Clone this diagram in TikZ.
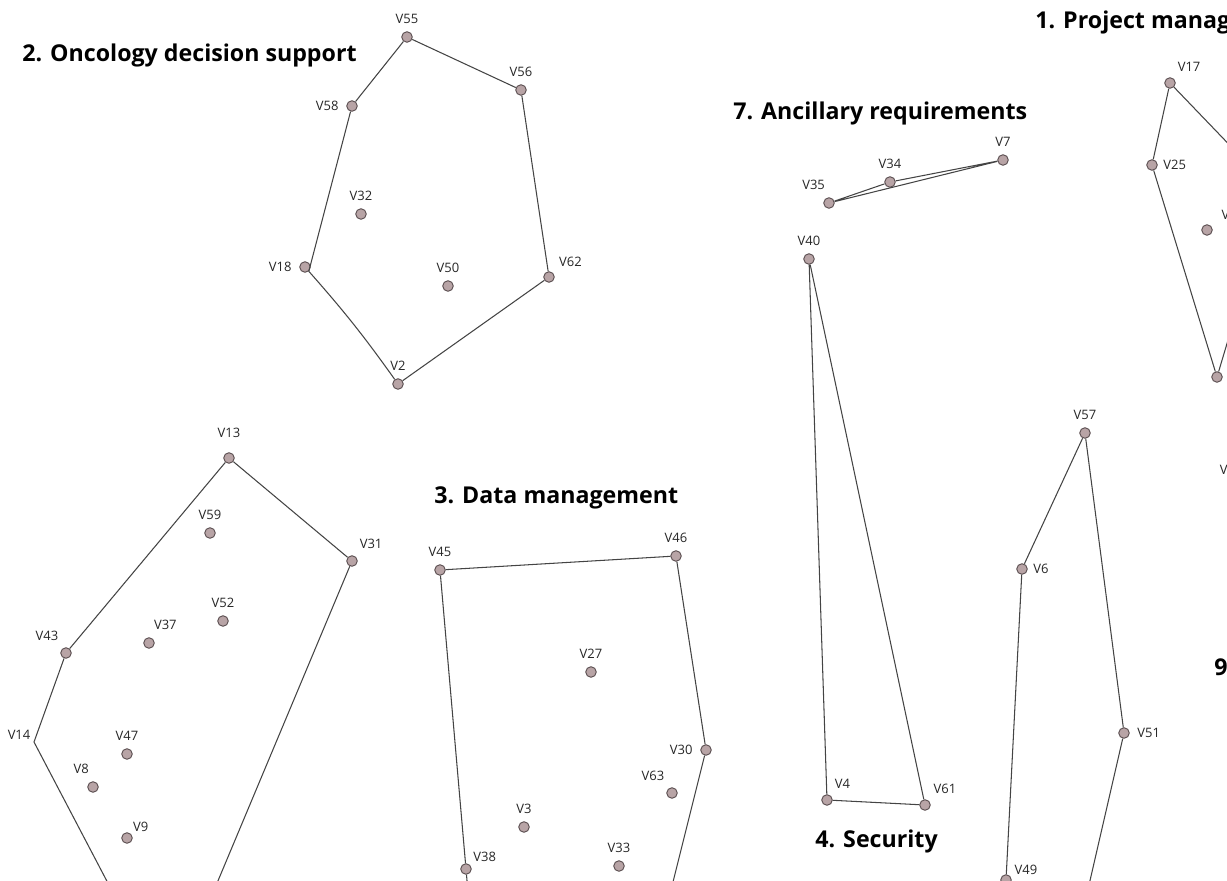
\documentclass[tikz,border=0pt]{standalone}
\usepackage{fontspec}
\setmainfont{Open Sans}
\usepackage{xcolor}
\usetikzlibrary{positioning}
\definecolor{vfill}{RGB}{184,164,166}
\definecolor{vline}{RGB}{96,84,86}
\definecolor{hullcol}{RGB}{68,68,68}
\tikzset{
  vx/.style={circle,fill=vfill,draw=vline,line width=0.55pt,minimum size=6pt,inner sep=0pt},
  hull/.style={draw=hullcol,line width=0.6pt},
  grp/.style={anchor=base west,inner sep=0pt,font=\bfseries\fontsize{13.2}{15}\selectfont},
  every label/.style={font=\fontsize{7.4}{8.5}\selectfont,text=black!85,inner sep=1pt},
  label distance=3.2pt
}

\begin{document}
\begin{tikzpicture}[x=0.02cm,y=-0.02cm]
 \useasboundingbox (0,0) rectangle (1227,881);
 \clip (0,0) rectangle (1227,881);

 \node[grp] (t1) at (1035,29) {1. Project management};
 \node[grp] (t2) at (22,62) {2. Oncology decision support};
 \node[grp] (t3) at (434,503) {3. Data management};
 \node[grp] (t4) at (815,847) {4. Security};
 \node[grp] (t7) at (733,120) {7. Ancillary requirements};
 \node[grp] (t9) at (1214,675) {9.};

 % 2
 \node[vx,label=above:V55] (v55) at (407,37) {};
 \node[vx,label=above:V56] (v56) at (521,90) {};
 \node[vx,label=left:V58] (v58) at (352,106) {};
 \node[vx,label=above:V32] (v32) at (361,214) {};
 \node[vx,label=left:V18] (v18) at (305,267) {};
 \node[vx,label=above:V50] (v50) at (448,286) {};
 \node[vx,label=45:V62] (v62) at (549,277) {};
 \node[vx,label=above:V2] (v2) at (398,384) {};
 \draw[hull] (v55) -- (v56) -- (v62) -- (v2) to[bend right=3] (v18) -- (v58) -- (v55);

 % 5
 \node[vx,label={[label distance=7pt]above:V13}] (v13) at (229,458) {};
 \node[vx,label=above:V59] (v59) at (210,533) {};
 \node[vx,label=60:V31] (v31) at (352,561) {};
 \node[vx,label=above:V52] (v52) at (223,621) {};
 \node[vx,label=75:V37] (v37) at (149,643) {};
 \node[vx,label=120:V43] (v43) at (66,653) {};
 \coordinate[label={[label distance=1pt]150:V14}] (v14) at (34,742);
 \node[vx,label=above:V47] (v47) at (127,754) {};
 \node[vx,label=100:V8] (v8) at (93,787) {};
 \node[vx,label={[label distance=0pt]45:V9}] (v9) at (127,838) {};
 \coordinate (c5l) at (143,950);
 \coordinate (c5r) at (189,950);
 \draw[hull] (v13) -- (v31) -- (c5r) -- (c5l) -- (v14) -- (v43) -- (v13);

 % 3
 \node[vx,label=above:V45] (v45) at (440,570) {};
 \node[vx,label=above:V46] (v46) at (676,556) {};
 \node[vx,label=above:V27] (v27) at (591,672) {};
 \node[vx,label=left:V30] (v30) at (706,750) {};
 \node[vx,label=120:V63] (v63) at (672,793) {};
 \node[vx,label=above:V3] (v3) at (524,827) {};
 \node[vx,label={[label distance=1pt]45:V38}] (v38) at (466,869) {};
 \node[vx,label=above:V33] (v33) at (619,866) {};
 \coordinate (c3l) at (473,950);
 \coordinate (c3r) at (656,950);
 \draw[hull] (v45) -- (v46) -- (v30) -- (c3r) -- (c3l) -- (v38) -- (v45);

 % 7
 \node[vx,label=above:V7] (v7) at (1003,160) {};
 \node[vx,label=above:V34] (v34) at (890,182) {};
 \node[vx,label=100:V35] (v35) at (829,203) {};
 \draw[hull] (v35) -- (v34) -- (v7) -- (v35);

 % 4
 \node[vx,label=above:V40] (v40) at (809,259) {};
 \node[vx,label=60:V4] (v4) at (827,800) {};
 \node[vx,label=55:V61] (v61) at (925,805) {};
 \draw[hull] (v40) -- (v4) -- (v61) -- (v40);

 % 6
 \node[vx,label=above:V57] (v57) at (1085,433) {};
 \node[vx,label={[label distance=2pt]right:V6}] (v6) at (1022,569) {};
 \node[vx,label=right:V51] (v51) at (1124,733) {};
 \node[vx,label={[label distance=1pt]30:V49}] (v49) at (1006,880) {};
 \coordinate (c6) at (1074,950);
 \draw[hull] (v57) -- (v6) -- (v49) -- (c6) -- (v51) -- (v57);

 % 1
 \node[vx,label=60:V17] (v17) at (1170,83) {};
 \node[vx,label={[label distance=2pt]right:V25}] (v25) at (1152,165) {};
 \node[vx,label={[xshift=3pt]50:V10}] (v10) at (1207,230) {};
 \node[vx] (v19) at (1217,377) {};
 \node[vx,label=left:V12] (v12) at (1256,470) {};
 \coordinate (c1a) at (1290,208);
 \coordinate (c1b) at (1240,300);
 \draw[hull] (c1a) -- (v17) -- (v25) -- (v19) -- (c1b);
\end{tikzpicture}
\end{document}
